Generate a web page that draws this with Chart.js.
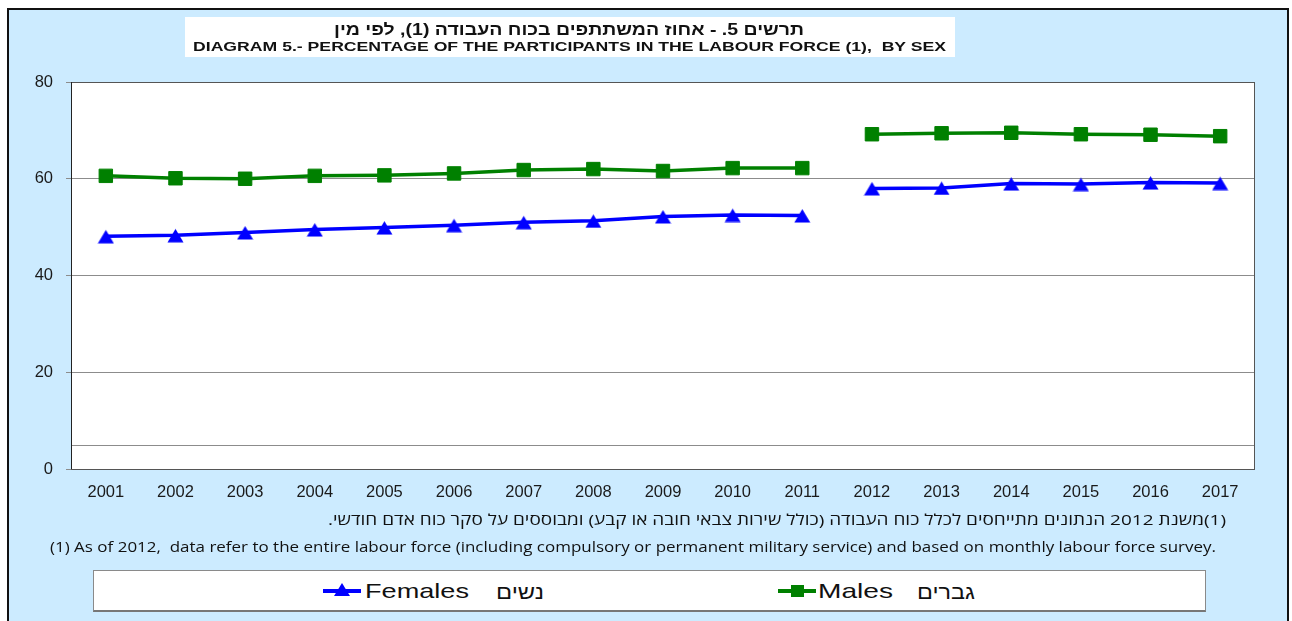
<!DOCTYPE html>
<html><head><meta charset="utf-8">
<script src="https://cdn.jsdelivr.net/npm/chart.js@4"></script>
<style>
html,body{margin:0;padding:0;width:1292px;height:621px;overflow:hidden;background:#fff;}
#frame{position:absolute;left:7px;top:8px;width:1278px;height:640px;background:#CCEBFF;border:2px solid #111;}
#wrap{position:absolute;left:0;top:0;width:1292px;height:621px;}
#titlebox{position:absolute;left:185px;top:17px;width:770px;height:40px;background:#fff;}
.t{position:absolute;white-space:nowrap;transform-origin:0 50%;line-height:1.15;color:#111;}
#legend{position:absolute;left:93px;top:570px;width:1111px;height:39px;background:#fff;border:1px solid #8a8a8a;border-bottom:2px solid #777;}
.lline{position:absolute;height:4px;}
</style>
</head><body>
<div id="frame"></div>
<div id="titlebox"></div>
<div id="wrap"><canvas id="c" width="1292" height="621"></canvas></div>
<div class="t" id="t1" dir="rtl" style="font:bold 16px 'Liberation Sans',Arial,sans-serif;">תרשים 5. - אחוז המשתתפים בכוח העבודה (1), לפי מין</div>
<div class="t" id="t2" style="font:bold 13px 'Liberation Sans',Arial,sans-serif;">DIAGRAM 5.- PERCENTAGE OF THE PARTICIPANTS IN THE LABOUR FORCE (1),&nbsp; BY SEX</div>
<div class="t" id="f1" dir="rtl" style="font:15px 'Open Sans','DejaVu Sans',sans-serif;">(1)משנת 2012 הנתונים מתייחסים לכלל כוח העבודה (כולל שירות צבאי חובה או קבע) ומבוססים על סקר כוח אדם חודשי.</div>
<div class="t" id="f2" style="font:14px 'Open Sans','DejaVu Sans',sans-serif;">(1) As of 2012,&nbsp; data refer to the entire labour force (including compulsory or permanent military service) and based on monthly labour force survey.</div>
<div id="legend"></div>
<div class="lline" style="left:323px;top:589px;width:38px;background:#0000FF;"></div>
<div style="position:absolute;left:334px;top:583px;width:0;height:0;border-left:8px solid transparent;border-right:8px solid transparent;border-bottom:13px solid #0000FF;"></div>
<div class="lline" style="left:778px;top:589px;width:38px;background:#008000;"></div>
<div style="position:absolute;left:791px;top:585px;width:13px;height:12px;background:#008000;"></div>
<div class="t" id="l1" style="font:21px 'Liberation Sans',Arial,sans-serif;">Females</div>
<div class="t" id="l2" style="font:20px 'Liberation Sans',Arial,sans-serif;">נשים</div>
<div class="t" id="l3" style="font:21px 'Liberation Sans',Arial,sans-serif;">Males</div>
<div class="t" id="l4" style="font:20px 'Liberation Sans',Arial,sans-serif;">גברים</div>
<script>
const years = ['2001','2002','2003','2004','2005','2006','2007','2008','2009','2010','2011','2012','2013','2014','2015','2016','2017'];
const females = [48.1, 48.3, 48.9, 49.5, 49.9, 50.4, 51.0, 51.3, 52.2, 52.5, 52.4, 58.0, 58.1, 59.0, 58.9, 59.2, 59.1];
const males = [60.6, 60.1, 60.0, 60.6, 60.7, 61.1, 61.8, 62.0, 61.6, 62.2, 62.2, 69.2, 69.4, 69.5, 69.2, 69.1, 68.8];
const yTicks = [0, 20, 40, 60, 80];
const refLine = 5;
const breakAfter = years.indexOf('2011');

function place(id, left, cy, w){
  const el = document.getElementById(id);
  el.style.transform = 'none';
  const nat = el.getBoundingClientRect().width;
  el.style.left = left + 'px';
  el.style.top = cy + 'px';
  el.style.transform = 'translateY(-50%) scaleX(' + (w / nat) + ')';
}

const tri = document.createElement('canvas');
tri.width = 17; tri.height = 15;
(function(){ const g = tri.getContext('2d'); g.fillStyle = '#0000FF'; g.beginPath(); g.moveTo(0.5,14.5); g.lineTo(16.5,14.5); g.lineTo(8.5,1); g.closePath(); g.fill(); })();

const plotDeco = {
  id: 'plotDeco',
  beforeDraw(chart){
    const a = chart.chartArea, ctx = chart.ctx;
    ctx.save(); ctx.fillStyle = '#fff'; ctx.fillRect(a.left, a.top, a.right - a.left, a.bottom - a.top); ctx.restore();
  },
  beforeDatasetsDraw(chart){
    const a = chart.chartArea, ctx = chart.ctx, y = chart.scales.y.getPixelForValue(refLine);
    ctx.save();
    ctx.strokeStyle = '#8c8c8c'; ctx.lineWidth = 1;
    ctx.beginPath(); ctx.moveTo(a.left, Math.round(y) + 0.5); ctx.lineTo(a.right, Math.round(y) + 0.5); ctx.stroke();
    ctx.strokeStyle = '#555';
    ctx.strokeRect(a.left + 0.5, a.top + 0.5, a.right - a.left - 1, a.bottom - a.top);
    ctx.strokeStyle = '#222';
    ctx.beginPath(); ctx.moveTo(a.left + 0.5, a.top); ctx.lineTo(a.left + 0.5, a.bottom); ctx.stroke();
    ctx.restore();
  }
};

function seg(color){ return { borderColor: c => c.p0DataIndex === breakAfter ? 'rgba(0,0,0,0)' : color }; }

new Chart(document.getElementById('c'), {
  type: 'line',
  data: {
    labels: years,
    datasets: [
      { label: 'Females  נשים', data: females, borderColor: '#0000FF', backgroundColor: '#0000FF', borderWidth: 3.5,
        pointStyle: tri, pointRadius: 9, segment: seg('#0000FF') },
      { label: 'Males  גברים', data: males, borderColor: '#008000', backgroundColor: '#008000', borderWidth: 3.5,
        pointStyle: 'rect', pointRadius: 9.5, pointBorderWidth: 1, segment: seg('#008000') }
    ]
  },
  options: {
    responsive: false, animation: false,
    layout: { padding: { left: 0, top: 82, right: 37, bottom: 0 } },
    plugins: { legend: { display: false }, tooltip: { enabled: false } },
    scales: {
      x: {
        offset: true,
        grid: { display: false }, border: { display: false },
        ticks: { font: { family: "'Liberation Sans', Arial", size: 16.5 }, color: '#1a1a1a', padding: 6, maxRotation: 0, autoSkip: false },
        afterFit(s){ s.height = 152; }
      },
      y: {
        min: 0, max: 80,
        grid: { color: '#8c8c8c', tickLength: 5, drawTicks: true },
        border: { display: false },
        ticks: { stepSize: 20, font: { family: "'Liberation Sans', Arial", size: 16.5 }, color: '#1a1a1a', padding: 13,
                 callback: v => yTicks.includes(v) ? String(v) : '' },
        afterFit(s){ s.width = 71; }
      }
    }
  },
  plugins: [plotDeco]
});

place('t1', 334, 30, 470);
place('t2', 193, 46, 753);
place('f1', 328, 519, 898);
place('f2', 50, 546, 1166);
place('l1', 365, 591, 104);
place('l2', 496, 592, 48);
place('l3', 818, 591, 75);
place('l4', 917, 592, 58);
</script>
</body></html>
